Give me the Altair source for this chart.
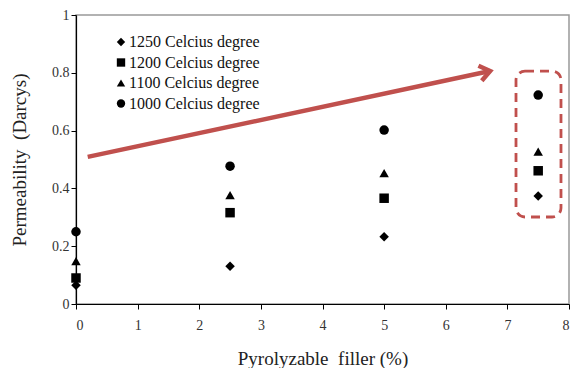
import altair as alt
import pandas as pd

# ---- data ----
filler = [0, 2.5, 5, 7.5]
series_names = ["1250 Celcius degree", "1200 Celcius degree", "1100 Celcius degree", "1000 Celcius degree"]
perm_1250 = [0.065, 0.131, 0.233, 0.374]
perm_1200 = [0.09, 0.316, 0.366, 0.461]
perm_1100 = [0.148, 0.377, 0.453, 0.527]
perm_1000 = [0.25, 0.477, 0.602, 0.723]
shapes = ["diamond", "square", "triangle-up", "circle"]

x_ticks = [0, 1, 2, 3, 4, 5, 6, 7, 8]
y_ticks = [0, 0.2, 0.4, 0.6, 0.8, 1]

x_title = "Pyrolyzable\u00a0 filler (%)"
y_title = "Permeability\u00a0 (Darcys)"

# annotation arrow (start -> tip) and dashed box, in data units
arrow_x = [0.19, 6.72]
arrow_y = [0.509, 0.806]
box_x = [7.14, 7.87]
box_y = [0.301, 0.806]

RED = "#c0504d"
FONT = "'Liberation Serif', 'Times New Roman', 'DejaVu Serif', serif"

rows = []
for name, vals in zip(series_names, [perm_1250, perm_1200, perm_1100, perm_1000]):
    for f, v in zip(filler, vals):
        rows.append({"filler": f, "perm": v, "series": name})
df = pd.DataFrame(rows)

xs = alt.Scale(domain=[0, 8], nice=False, zero=False)
ys = alt.Scale(domain=[0, 1], nice=False)

points = alt.Chart(df).mark_point(filled=True, color="black", size=90, opacity=1).encode(
    x=alt.X("filler:Q", scale=xs,
            axis=alt.Axis(values=x_ticks, title=x_title, grid=False, format="~g",
                          tickSize=5, labelPadding=9, titleY=45)),
    y=alt.Y("perm:Q", scale=ys,
            axis=alt.Axis(values=y_ticks, title=y_title, grid=False, format="~g",
                          tickSize=5, labelPadding=2, titlePadding=22)),
    shape=alt.Shape("series:N", scale=alt.Scale(domain=series_names, range=shapes),
                    legend=alt.Legend(title=None, orient="none", legendX=37, legendY=19,
                                      labelFont=FONT, labelFontSize=16, labelColor="#111",
                                      symbolSize=70, symbolFillColor="black",
                                      symbolStrokeColor="black", symbolStrokeWidth=0,
                                      rowPadding=4.5, labelOffset=0, padding=0)),
)

arrow_df = pd.DataFrame({"x": [arrow_x[0]], "y": [arrow_y[0]], "x2": [arrow_x[1]], "y2": [arrow_y[1]]})
arrow_line = alt.Chart(arrow_df).mark_rule(color=RED, strokeWidth=4.5, strokeCap="butt").encode(
    x=alt.X("x:Q", scale=xs), y=alt.Y("y:Q", scale=ys),
    x2="x2:Q", y2="y2:Q",
)

head_df = pd.DataFrame({"x": [arrow_x[1]], "y": [arrow_y[1]]})
arrow_head = alt.Chart(head_df).mark_point(
    shape="M-1,-0.75L0,0L-1,0.75", filled=False, stroke=RED, strokeWidth=4.5,
    size=420, angle=347.5, opacity=1, strokeJoin="miter",
).encode(x=alt.X("x:Q", scale=xs), y=alt.Y("y:Q", scale=ys))

box_df = pd.DataFrame({"x": [box_x[0]], "x2": [box_x[1]], "y": [box_y[0]], "y2": [box_y[1]]})
box = alt.Chart(box_df).mark_rect(
    fill=None, fillOpacity=0, stroke=RED, strokeWidth=2.8, strokeDash=[9, 6], cornerRadius=9
).encode(x=alt.X("x:Q", scale=xs), x2="x2:Q", y=alt.Y("y:Q", scale=ys), y2="y2:Q")

chart = alt.layer(arrow_line, arrow_head, box, points).properties(
    width=493, height=289,
    autosize=alt.AutoSizeParams(type="none"),
    padding={"left": 68, "top": 7, "right": 4, "bottom": 64},
    background="white",
).configure_view(
    stroke="#999999", strokeWidth=1.5
).configure_axis(
    domainColor="black", tickColor="black", domainWidth=1.2,
    labelFont=FONT, labelFontSize=14, labelColor="#333",
    titleFont=FONT, titleFontSize=19, titleFontWeight="normal", titleColor="#222",
)

chart.save("out.html", embed_options={"renderer": "svg", "actions": False})
